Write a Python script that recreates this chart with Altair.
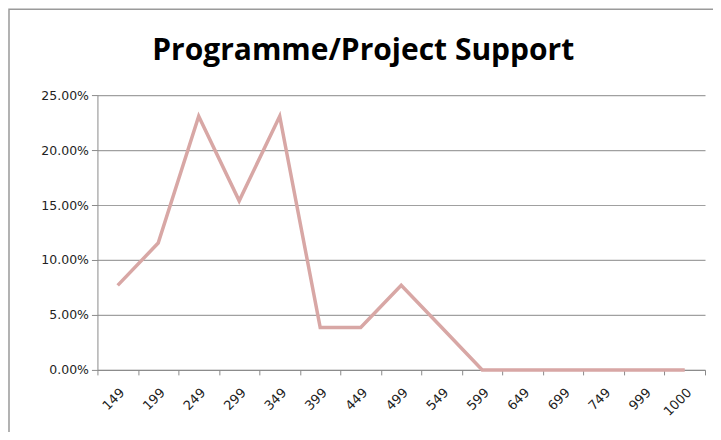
import altair as alt
import pandas as pd

title_text = "Programme/Project Support"
categories = ["149", "199", "249", "299", "349", "399", "449", "499", "549",
              "599", "649", "699", "749", "999", "1000"]
values = [0.0769, 0.1154, 0.2308, 0.1538, 0.2308, 0.0385, 0.0385, 0.0769, 0.0385,
          0.0, 0.0, 0.0, 0.0, 0.0, 0.0]

df = pd.DataFrame({"cat": categories, "val": values})

W, H = 608, 275

border = alt.Chart(pd.DataFrame({"a": [0]})).mark_rect(
    fill=None, stroke="#9a9a9a", strokeWidth=1.5
).encode(
    x=alt.value(-88.5), x2=alt.value(640),
    y=alt.value(-86), y2=alt.value(380)
)

title = alt.Chart(pd.DataFrame({"t": [title_text]})).mark_text(
    font="Open Sans", fontSize=30, fontWeight="bold", color="#000000",
    align="center", baseline="alphabetic"
).encode(text="t:N", x=alt.value(266), y=alt.value(-35))

line = alt.Chart(df).mark_line(color="#D8A7A5", strokeWidth=3.5).encode(
    x=alt.X("cat:O", sort=categories, title=None,
            scale=alt.Scale(paddingInner=0, paddingOuter=0),
            axis=alt.Axis(labelAngle=-45, tickBand="extent", grid=False,
                          domainColor="#8a8a8a", tickColor="#8a8a8a", tickSize=5,
                          labelFont="DejaVu Sans", labelFontSize=13,
                          labelColor="#222222", labelPadding=11)),
    y=alt.Y("val:Q", title=None,
            scale=alt.Scale(domain=[0, 0.25], nice=False),
            axis=alt.Axis(format=".2%", values=[0, 0.05, 0.10, 0.15, 0.20, 0.25],
                          gridColor="#a0a0a0", gridWidth=1.2,
                          domainColor="#8a8a8a", tickColor="#8a8a8a", tickSize=6,
                          labelFont="DejaVu Sans", labelFontSize=12.5,
                          labelColor="#222222", labelPadding=3))
)

chart = alt.layer(border, title, line).properties(
    width=W, height=H,
    autosize=alt.AutoSizeParams(type="none"),
    padding={"left": 89.5, "top": 87, "right": 8, "bottom": 62}
).configure_view(stroke=None)

chart.save("out.html", embed_options={"renderer": "svg", "actions": False})
